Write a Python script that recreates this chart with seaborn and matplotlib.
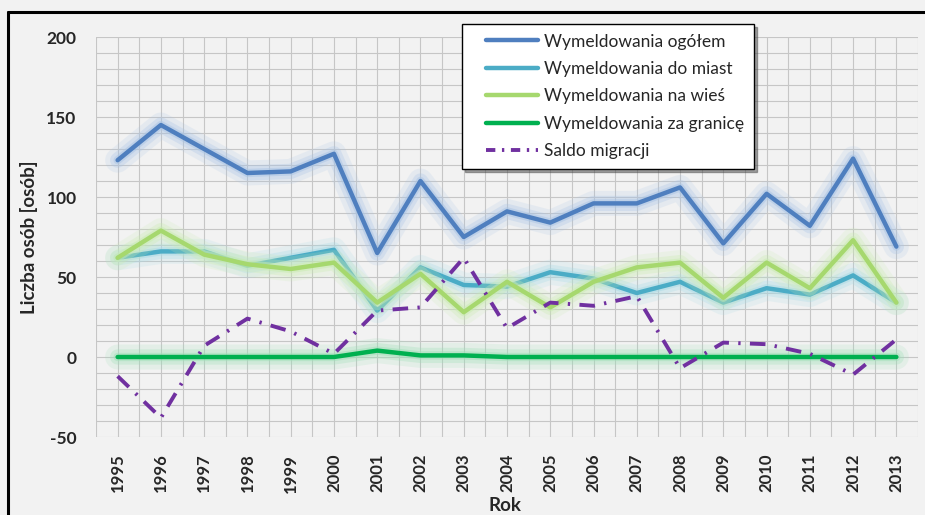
import matplotlib
matplotlib.use("Agg")
import matplotlib.pyplot as plt
import matplotlib.patheffects as pe
from matplotlib.ticker import MultipleLocator
from matplotlib.lines import Line2D
from matplotlib.legend_handler import HandlerLine2D
import seaborn as sns
import pandas as pd
import numpy as np

years = list(range(1995, 2014))
ogolem = [123, 145, 130, 115, 116, 127, 65, 110, 75, 91, 84, 96, 96, 106, 71, 102, 82, 124, 69]
do_miast = [62, 66, 66, 57, 62, 67, 29, 56, 45, 44, 53, 49, 40, 47, 34, 43, 39, 51, 34]
na_wies = [62, 79, 64, 58, 55, 59, 34, 52, 28, 47, 31, 47, 56, 59, 37, 59, 43, 73, 34]
za_granice = [0, 0, 0, 0, 0, 0, 4, 1, 1, 0, 0, 0, 0, 0, 0, 0, 0, 0, 0]
saldo = [-12, -38, 7, 24, 16, 2, 29, 31, 62, 18, 34, 32, 38, -7, 9, 8, 2, -11, 11]

labels = ["Wymeldowania ogółem", "Wymeldowania do miast", "Wymeldowania na wieś",
          "Wymeldowania za granicę", "Saldo migracji"]
series = [ogolem, do_miast, na_wies, za_granice, saldo]
colors = ["#4f7fbf", "#4bacc6", "#a6d86e", "#00b050", "#7030a0"]
glows = ["#a9c4e6", "#a9dbe6", "#c9ecb0", "#9fe0b8", None]


class OffsetLineHandler(HandlerLine2D):
    def get_xdata(self, legend, xdescent, ydescent, width, height, fontsize):
        xd, xdm = super().get_xdata(legend, xdescent, ydescent, width, height, fontsize)
        x0 = -xdescent + width * 0.22
        return np.array([x0, -xdescent + width]), xdm


sns.set_theme(style="white")
plt.rcParams['font.family'] = ['Lato', 'DejaVu Sans']
plt.rcParams['axes.unicode_minus'] = False

fig = plt.figure(figsize=(9.25, 5.15), dpi=100, facecolor="#f2f2f2")
ax = fig.add_axes([96/925, 1-437/515, (918-96)/925, 400/515])
ax.set_facecolor("#f2f2f2")

df = pd.DataFrame({"Rok": years * 5,
                   "val": sum(series, []),
                   "ser": sum([[l] * len(years) for l in labels], [])})

handles = []
for lab, col, gl in zip(labels, colors, glows):
    sub = df[df["ser"] == lab]
    if lab == "Saldo migracji":
        sns.lineplot(data=sub, x="Rok", y="val", ax=ax, color=col, lw=2.8,
                     dashes=False, zorder=5)
        ax.lines[-1].set_dashes((4.0, 2.4, 0.6, 2.4))
        ax.lines[-1].set_dash_capstyle("butt")
        handles.append(Line2D([], [], color=col, lw=2.8, dashes=(2.4, 1.7, 0.6, 1.7)))
    else:
        sns.lineplot(data=sub, x="Rok", y="val", ax=ax, color=col, lw=3.2, zorder=4)
        ax.lines[-1].set_path_effects([
            pe.Stroke(linewidth=18, foreground=gl, alpha=0.18),
            pe.Stroke(linewidth=11, foreground=gl, alpha=0.3),
            pe.Stroke(linewidth=6, foreground=gl, alpha=0.5),
            pe.Normal()])
        handles.append(Line2D([], [], color=col, lw=3.2))

ax.set_xlim(1994.5, 2013.5)
ax.set_ylim(-50, 200)
ax.set_xticks(years)
ax.set_xticklabels([str(y) for y in years], rotation=90, fontsize=12, fontweight="bold")
ax.xaxis.set_minor_locator(MultipleLocator(0.5))
ax.yaxis.set_major_locator(MultipleLocator(50))
ax.yaxis.set_minor_locator(MultipleLocator(10))
for t in ax.get_yticklabels():
    t.set_fontsize(12.5)
    t.set_fontweight("bold")
ax.tick_params(axis="both", which="both", length=0)
ax.tick_params(axis="y", pad=14)
ax.tick_params(axis="x", pad=12)
ax.grid(True, which="both", color="#c6c6c6", lw=0.8)
ax.set_axisbelow(True)
for s in ax.spines.values():
    s.set_visible(False)

ax.set_xlabel("Rok", fontsize=13.5, fontweight="bold")
ax.xaxis.set_label_coords(0.4976, -(497 - 437) / 400)
ax.set_ylabel("Liczba osób [osób]", fontsize=13.5, fontweight="bold", labelpad=6)

leg = fig.legend(handles, labels, loc="upper left", bbox_to_anchor=(462/925, 1-24/515),
                 fontsize=12.5, frameon=True, fancybox=False, shadow=True,
                 edgecolor="black", facecolor="white", framealpha=1,
                 handlelength=3.85, handletextpad=0.35, labelspacing=0.66,
                 borderpad=0.55, borderaxespad=0,
                 handler_map={Line2D: OffsetLineHandler()})
leg.get_frame().set_linewidth(1.0)

# outer frame lines (top and left)
fig.add_artist(Line2D([8/925, 1], [1-12/515, 1-12/515], color="black", lw=2.2, transform=fig.transFigure))
fig.add_artist(Line2D([8/925, 8/925], [0, 1-12/515], color="black", lw=2.2, transform=fig.transFigure))

fig.savefig("out.png", dpi=100, facecolor=fig.get_facecolor())
